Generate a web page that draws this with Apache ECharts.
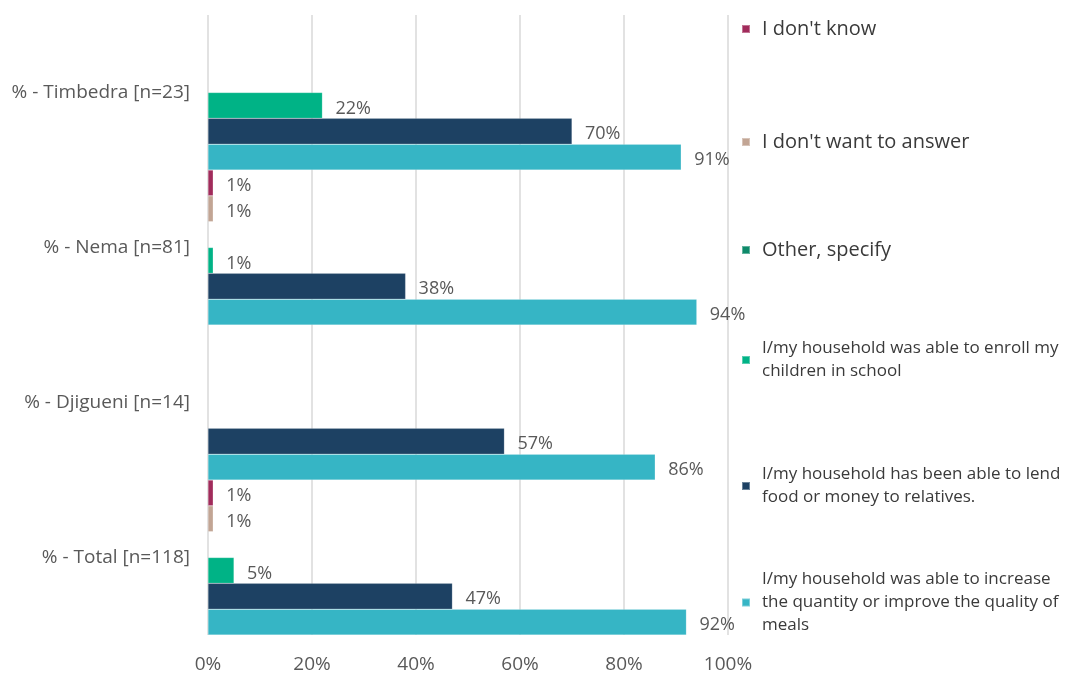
<!DOCTYPE html>
<html>
<head>
<meta charset="utf-8">
<script src="https://cdn.jsdelivr.net/npm/echarts@6/dist/echarts.min.js"></script>
<style>
  html, body { margin: 0; padding: 0; background: #fff; }
  #chart { width: 1068px; height: 677px; }
</style>
</head>
<body>
<div id="chart"></div>
<script>
// Regions (top to bottom)
const categories = ['% - Timbedra [n=23]', '% - Nema [n=81]', '% - Djigueni [n=14]', '% - Total [n=118]'];

// Response options, in drawing order within each region
const seriesNames = [
  "I don't know",
  "I don't want to answer",
  'Other, specify',
  'I/my household was able to enroll my children in school',
  'I/my household has been able to lend food or money to relatives.',
  'I/my household was able to increase the quantity or improve the quality of meals'
];
const legendLines = [
  "I don't know",
  "I don't want to answer",
  'Other, specify',
  'I/my household was able to enroll my\nchildren in school',
  'I/my household has been able to lend\nfood or money to relatives.',
  'I/my household was able to increase\nthe quantity or improve the quality of\nmeals'
];
const seriesColors = ['#A12B5B', '#C2A594', '#0E8A6A', '#00B386', '#1D4163', '#36B5C5'];

// Percent of households per region
const dontKnow  = [null, 1, null, 1];
const dontWant  = [null, 1, null, 1];
const other     = [null, null, null, null];
const enroll    = [22, 1, null, 5];
const lend      = [70, 38, 57, 47];
const increase  = [91, 94, 86, 92];
const seriesValues = [dontKnow, dontWant, other, enroll, lend, increase];

// Axis ticks
const xTicks = [0, 20, 40, 60, 80, 100];

const FONT = '"Open Sans", "Noto Sans", sans-serif';

const series = seriesNames.map((name, i) => ({
  name: name,
  type: 'bar',
  data: seriesValues[i],
  barGap: '0%',
  barCategoryGap: '0%',
  itemStyle: { color: seriesColors[i], borderColor: 'rgba(255,255,255,0.35)', borderWidth: 0.5 },
  label: {
    show: true,
    position: 'right',
    distance: 13,
    offset: [0, 3],
    color: '#595959',
    fontFamily: FONT,
    fontSize: 18,
    formatter: p => p.value + '%'
  }
}));

// One legend block per option, stacked down the right side
const legendTops = [16, 129, 237, 337, 463, 568];
const legendSizes = [20, 20, 20, 17, 17, 17];
const legends = seriesNames.map((name, i) => ({
  data: [name],
  orient: 'vertical',
  left: 741,
  top: legendTops[i],
  padding: 0,
  icon: 'rect',
  itemWidth: 8,
  itemHeight: 8,
  selectedMode: false,
  formatter: () => legendLines[i],
  textStyle: {
    color: '#3a3a3a',
    fontFamily: FONT,
    fontSize: legendSizes[i],
    lineHeight: legendSizes[i] === 20 ? 26 : 23,
    padding: [0, 0, 0, 7]
  }
}));

const chart = echarts.init(document.getElementById('chart'), null, { renderer: 'canvas' });
chart.setOption({
  animation: false,
  backgroundColor: '#ffffff',
  grid: { left: 208, right: 340, top: 15, bottom: 42, containLabel: false },
  legend: legends,
  xAxis: {
    type: 'value',
    min: xTicks[0],
    max: xTicks[xTicks.length - 1],
    interval: xTicks[1] - xTicks[0],
    axisLine: { show: false },
    axisTick: { show: false },
    splitLine: { show: true, lineStyle: { color: '#d9d9d9', width: 1.5 } },
    axisLabel: {
      margin: 20,
      color: '#595959',
      fontFamily: FONT,
      fontSize: 19,
      formatter: v => v + '%'
    }
  },
  yAxis: {
    type: 'category',
    inverse: true,
    data: categories,
    axisLine: { show: false },
    axisTick: { show: false },
    axisLabel: {
      margin: 18,
      color: '#595959',
      fontFamily: FONT,
      fontSize: 19
    }
  },
  series: series
});
</script>
</body>
</html>
